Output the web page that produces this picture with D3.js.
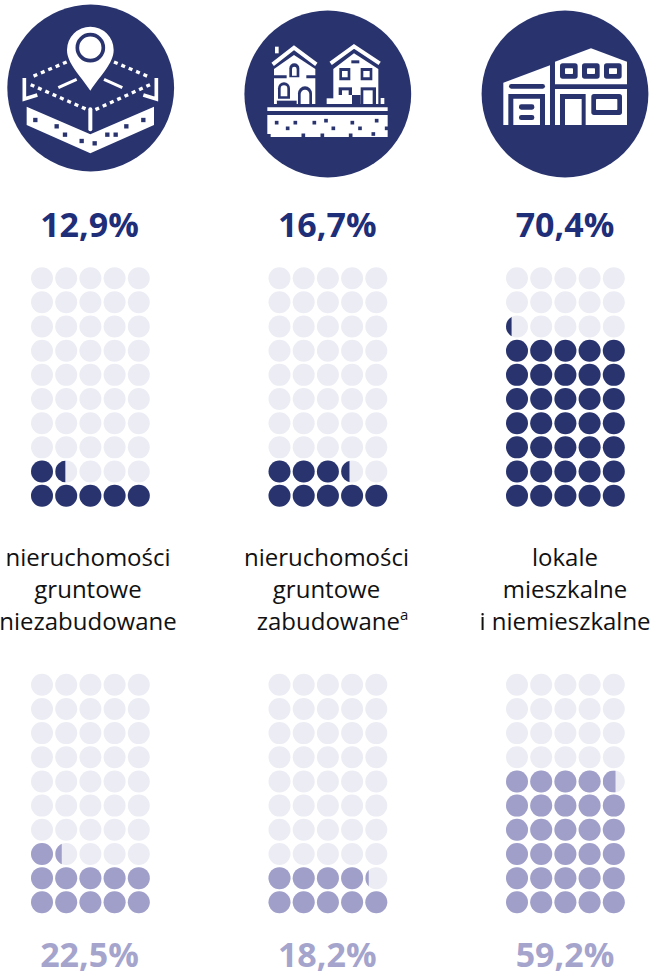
<!DOCTYPE html>
<html>
<head>
<meta charset="utf-8">
<script src="https://cdn.jsdelivr.net/npm/d3@7"></script>
<style>
  html, body { margin: 0; padding: 0; background: #fff; }
  svg { display: block; }
  text { font-family: "Open Sans", sans-serif; }
</style>
</head>
<body>
<svg id="chart" width="651" height="975"></svg>
<script>
// Data
const categories = ["niezabudowane", "zabudowane", "lokale"];
const topValues = [12.9, 16.7, 70.4];
const bottomValues = [22.5, 18.2, 59.2];
const labelLines = [
    ["nieruchomości", "gruntowe", "niezabudowane"],
    ["nieruchomości", "gruntowe", "zabudowane"],
    ["lokale", "mieszkalne", "i niemieszkalne"]
];
const percentPerDot = 2;
const columns = d3.range(5);
const rows = d3.range(10);

const navy = "#29346f";
const navyText = "#1f2e78";
const lilac = "#a09fc9";
const lilacText = "#a5a4cd";
const empty = "#ecedf4";
const radius = 11;

const svg = d3.select("#chart");
const defs = svg.append("defs");

// Panels and dot grid
const panelX = d3.scalePoint().domain(categories).range([42, 517]);
const centerX = d3.scalePoint().domain(categories).range([89.5, 565]);
const labelX = d3.scalePoint().domain(categories).range([88, 565]);
const dotX = d3.scaleLinear().domain([0, 4]).range([0, 96.8]);
const dotStep = 24.17;
const topGrid = d3.scaleLinear().domain([0, 9]).range([495.7, 495.7 - 9 * dotStep]);
const bottomGrid = d3.scaleLinear().domain([0, 9]).range([902.3, 902.3 - 9 * dotStep]);

// width of the circle's left part that holds the given share of its area
function segmentWidth(share) {
    const area = h => (Math.acos(1 - 2 * h) - (1 - 2 * h) * Math.sqrt(1 - (1 - 2 * h) * (1 - 2 * h))) / Math.PI;
    let lo = 0, hi = 1;
    for (let i = 0; i < 30; i++) {
        const mid = (lo + hi) / 2;
        if (area(mid) < share) lo = mid; else hi = mid;
    }
    return lo;
}

function drawGrid(name, values, dotY, color) {
    categories.forEach((cat, c) => {
        const dotsFull = values[c] / percentPerDot;
        const dots = [];
        rows.forEach(r => columns.forEach(k => dots.push({
            r: r, k: k, share: Math.max(0, Math.min(1, dotsFull - (r * columns.length + k)))
        })));
        const g = svg.append("g").attr("transform", `translate(${panelX(cat)},0)`);
        g.selectAll("circle.bg")
            .data(dots)
            .enter()
            .append("circle")
            .attr("class", "bg")
            .attr("cx", d => dotX(d.k))
            .attr("cy", d => dotY(d.r))
            .attr("r", radius)
            .attr("fill", empty);
        g.selectAll("circle.val")
            .data(dots.filter(d => d.share > 0))
            .enter()
            .append("circle")
            .attr("class", "val")
            .attr("cx", d => dotX(d.k))
            .attr("cy", d => dotY(d.r))
            .attr("r", radius)
            .attr("fill", color)
            .attr("clip-path", d => {
                if (d.share >= 1) return null;
                const id = `clip-${name}-${c}`;
                defs.append("clipPath").attr("id", id).append("rect")
                    .attr("x", dotX(d.k) - radius)
                    .attr("y", dotY(d.r) - radius)
                    .attr("width", 2 * radius * segmentWidth(d.share))
                    .attr("height", 2 * radius);
                return `url(#${id})`;
            });
    });
}

drawGrid("top", topValues, topGrid, navy);
drawGrid("bottom", bottomValues, bottomGrid, lilac);

const format = v => d3.format(".1f")(v).replace(".", ",") + "%";

function drawPercents(values, y, color) {
    svg.append("g").selectAll("text")
        .data(values)
        .enter()
        .append("text")
        .attr("x", (d, i) => centerX(categories[i]))
        .attr("y", y)
        .attr("text-anchor", "middle")
        .attr("font-size", 34)
        .attr("font-weight", 700)
        .attr("fill", color)
        .text(format);
}
drawPercents(topValues, 237, navyText);
drawPercents(bottomValues, 966.5, lilacText);

// Category labels
const lineY = d3.scaleLinear().domain([0, 2]).range([566, 630]);
labelLines.forEach((lines, c) => {
    const label = svg.append("g");
    lines.forEach((line, l) => {
        const t = label.append("text")
            .attr("x", labelX(categories[c]))
            .attr("y", lineY(l))
            .attr("text-anchor", "middle")
            .attr("font-size", 24)
            .attr("fill", "#111")
            .text(line);
        if (c === 1 && l === 2) {
            // footnote mark hangs off the centred word
            t.attr("dx", 6);
            t.append("tspan").attr("font-size", 15).attr("dy", -10).text("a");
        }
    });
});

// Icons, drawn in 3x pixel space
const icons = [
    { cx: 90.7, cy: 88 }, { cx: 327.8, cy: 94 }, { cx: 565, cy: 94 }
];
svg.append("g").selectAll("circle")
    .data(icons)
    .enter()
    .append("circle")
    .attr("cx", d => d.cx)
    .attr("cy", d => d.cy)
    .attr("r", 83.4)
    .attr("fill", navy);

const art = svg.append("g").attr("transform", "scale(0.33333)");

function white(path) { return art.append("path").attr("d", path).attr("fill", "#fff"); }
function dark(path) { return art.append("path").attr("d", path).attr("fill", navy); }
function line(path, w, dash, cap) {
    return art.append("path").attr("d", path).attr("fill", "none").attr("stroke", "#fff")
        .attr("stroke-width", w)
        .attr("stroke-dasharray", dash || null)
        .attr("stroke-linecap", cap || "butt")
        .attr("stroke-linejoin", "miter");
}
function squares(list, size) {
    art.append("g").selectAll("rect")
        .data(list)
        .enter()
        .append("rect")
        .attr("x", d => d[0] - size / 2)
        .attr("y", d => d[1] - size / 2)
        .attr("width", size)
        .attr("height", size)
        .attr("fill", navy);
}

// land plot with pin
white("M271 272C240 225 201 190 201 150A70 70 0 0 1 341 150C341 190 302 225 271 272Z");
art.append("circle").attr("cx", 271).attr("cy", 143).attr("r", 39)
    .attr("fill", "#fff").attr("stroke", navy).attr("stroke-width", 11);
line("M200 186L92 232", 10, "12 12");
line("M342 186L450 232", 10, "12 12");
line("M92 254L262 329", 10, "12 12");
line("M450 254L286 329", 10, "12 12");
line("M175 263L230 238", 9);
line("M367 263L312 238", 9);
line("M73 234V297L112 285", 11);
line("M469 234V297L430 285", 11);
line("M271 328V388", 12, null, "round");
white("M80 320L271 403L462 320V375L271 460L80 375Z");
squares([[106, 360], [170, 379], [195, 404], [245, 423], [284, 430], [322, 404], [347, 404], [379, 379], [430, 360]], 13);

// two houses on ground
white("M802 322H1163V333H802Z");
white("M802 345H1163V411H812V402H802Z");
squares([[830, 368], [863, 385], [886, 368], [943, 368], [978, 362], [910, 406], [967, 406], [1000, 385],
    [1057, 368], [1080, 385], [1130, 362], [1052, 406], [1120, 402], [1160, 385]], 11);
// left house
line("M818 193L882 143L949 193", 12);
white("M825 140H836V160H825Z");
white("M822 207L882 165L946 207V312H822Z");
dark("M820 226H860V235H820ZM919 226H948V235H919Z");
dark("M868 232V205A15 15 0 0 1 898 205V232Z");
white("M876 227V207A7 7 0 0 1 890 207V227Z");
dark("M834 296V265A18 18 0 0 1 870 265V296Z");
white("M842 289V266A10 10 0 0 1 862 266V289Z");
dark("M894 312V280A20 20 0 0 1 936 280V312Z");
white("M902 312V282A12 12 0 0 1 928 282V312Z");
dark("M830 302H890V312H830Z");
white("M822 302H830V312H822Z");
// right house
line("M992 190L1062 139L1139 190", 12);
white("M1000 207L1062 160L1135 207V312H1000Z");
dark("M1054 181H1078V190H1054Z");
dark("M1018 204H1051V241H1018ZM1082 204H1117V241H1082Z");
white("M1026 213H1043V232H1026ZM1090 213H1109V232H1090Z");
dark("M1016 262H1056V285H1016Z");
white("M1026 271H1046V285H1026Z");
dark("M1082 262H1128V312H1082Z");
white("M1090 271H1118V312H1090Z");
dark("M1064 285H1082V312H1064Z");
white("M980 295H1064V312H980Z");
dark("M1056 285H1068V312H1056Z");
white("M1142 294H1153V312H1142Z");

// building
art.append("g").attr("transform", "translate(990,0)").call(g => {
    const w = d => g.append("path").attr("d", d).attr("fill", "#fff");
    const n = d => g.append("path").attr("d", d).attr("fill", navy);
    const rr = (x, y, width, height, rx, fill) => g.append("rect")
        .attr("x", x).attr("y", y).attr("width", width).attr("height", height).attr("rx", rx).attr("fill", fill);
    w("M520 248L660 196V375H520Z");
    rr(537, 252, 108, 14, 7, navy);
    n("M535 282H645V375H630V296H550V375H535Z");
    rr(567, 313, 46, 16, 7, navy);
    rr(567, 345, 46, 15, 7, navy);
    w("M675 185L783 145L891 185V375H675Z");
    n("M675 253H891V267H675Z");
    [690, 756, 822].forEach(x => {
        rr(x, 190, 53, 46, 8, navy);
        rr(x + 15, 205, 24, 17, 2, "#fff");
    });
    n("M690 282H767V375H755V297H705V375H690Z");
    rr(784, 282, 92, 63, 8, navy);
    rr(798, 297, 64, 33, 2, "#fff");
});
</script>
</body>
</html>
